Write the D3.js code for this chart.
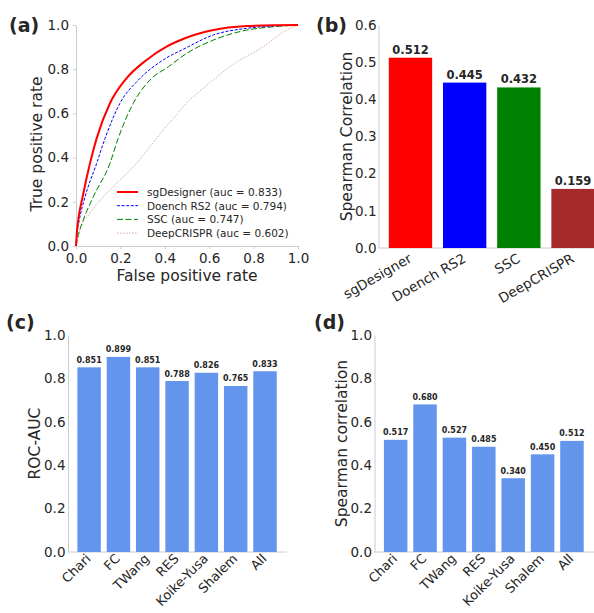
<!doctype html>
<html lang="en">
<head>
  <meta charset="utf-8">
  <title>sgDesigner benchmark</title>
  <style>
    body { margin: 0; background: #fff; }
    text { font-family: "DejaVu Sans", sans-serif; fill: #262626; }
  </style>
</head>
<body>
  <script src="https://cdn.jsdelivr.net/npm/d3@7"></script>
  <script>
    // (a) ROC curves
    const sgFpr   = [0, 0.003, 0.010, 0.030, 0.063, 0.093, 0.153, 0.221, 0.318, 0.408, 0.491, 0.619, 0.769, 0.900, 1];
    const sgTpr   = [0, 0.050, 0.118, 0.223, 0.374, 0.487, 0.646, 0.751, 0.842, 0.902, 0.940, 0.977, 0.995, 0.999, 1];
    const rs2Fpr  = [0, 0.004, 0.015, 0.041, 0.093, 0.131, 0.198, 0.281, 0.393, 0.491, 0.619, 0.769, 0.900, 1];
    const rs2Tpr  = [0, 0.050, 0.118, 0.223, 0.374, 0.487, 0.646, 0.751, 0.842, 0.894, 0.955, 0.985, 0.996, 1];
    const sscFpr  = [0, 0.008, 0.033, 0.078, 0.153, 0.190, 0.258, 0.333, 0.416, 0.499, 0.619, 0.769, 0.889, 1];
    const sscTpr  = [0, 0.040, 0.118, 0.223, 0.374, 0.487, 0.646, 0.751, 0.811, 0.872, 0.932, 0.977, 0.992, 1];
    const deepFpr = [0, 0.018, 0.063, 0.123, 0.183, 0.273, 0.333, 0.393, 0.450, 0.506, 0.574, 0.716, 0.844, 0.949, 1];
    const deepTpr = [0, 0.072, 0.148, 0.223, 0.284, 0.374, 0.450, 0.525, 0.590, 0.655, 0.715, 0.827, 0.902, 0.977, 1];
    const rocNames = ['sgDesigner (auc = 0.833)', 'Doench RS2 (auc = 0.794)', 'SSC (auc = 0.747)', 'DeepCRISPR (auc = 0.602)'];
    const rocTicks = [0, 0.2, 0.4, 0.6, 0.8, 1.0];

    // (b) Spearman correlation per tool
    const toolNames = ['sgDesigner', 'Doench RS2', 'SSC', 'DeepCRISPR'];
    const toolRho   = [0.512, 0.445, 0.432, 0.159];
    const toolTicks = [0, 0.1, 0.2, 0.3, 0.4, 0.5, 0.6];

    // (c), (d) sgDesigner per dataset
    const datasets   = ['Chari', 'FC', 'TWang', 'RES', 'Koike-Yusa', 'Shalem', 'All'];
    const datasetAuc = [0.851, 0.899, 0.851, 0.788, 0.826, 0.765, 0.833];
    const datasetRho = [0.517, 0.680, 0.527, 0.485, 0.340, 0.450, 0.512];
    const unitTicks  = [0, 0.2, 0.4, 0.6, 0.8, 1.0];

    const spine = '#cccccc';
    const fmt1 = d3.format('.1f');
    const fmt3 = d3.format('.3f');

    const svg = d3.select('body')
                  .append('svg')
                  .attr('width', 594)
                  .attr('height', 613);

    svg.append('rect').attr('width', 594).attr('height', 613).attr('fill', '#fff');

    // axis look shared by every panel
    function styleAxis(g, size) {
      g.attr('font-size', size).attr('font-family', null);
      g.select('.domain').attr('stroke', spine);
      g.selectAll('.tick line').attr('stroke', spine);
    }

    function panelLetter(x, y, s) {
      svg.append('text').attr('x', x).attr('y', y)
         .style('font-size', '19px').style('font-weight', 'bold').text(s);
    }

    // ---------- (a) ROC ----------
    const ax = d3.scaleLinear().domain([0, 1]).range([76, 298]);
    const ay = d3.scaleLinear().domain([0, 1]).range([246, 25]);

    svg.append('g')
       .attr('transform', 'translate(0,246)')
       .call(d3.axisBottom(ax).tickValues(rocTicks).tickFormat(fmt1).tickSize(3).tickPadding(4).tickSizeOuter(0))
       .call(styleAxis, 13.5);

    svg.append('g')
       .attr('transform', 'translate(76,0)')
       .call(d3.axisLeft(ay).tickValues(rocTicks).tickFormat(fmt1).tickSize(3).tickPadding(4).tickSizeOuter(0))
       .call(styleAxis, 13.5);

    const curves = [
      { fpr: sgFpr,   tpr: sgTpr,   color: '#ff0000', dash: null,      width: 2 },
      { fpr: rs2Fpr,  tpr: rs2Tpr,  color: '#0000ff', dash: '3,1.6',   width: 1 },
      { fpr: sscFpr,  tpr: sscTpr,  color: '#008000', dash: '6,2.5',   width: 1 },
      { fpr: deepFpr, tpr: deepTpr, color: '#d9a6a6', dash: '1.5,1.5', width: 1 }
    ];
    const line = d3.line()
                   .x((d) => ax(d[0]))
                   .y((d) => ay(d[1]))
                   .curve(d3.curveMonotoneX);

    // drawn back to front so red sits on top
    curves.slice().reverse().forEach((c) => {
      svg.append('path')
         .datum(d3.zip(c.fpr, c.tpr))
         .attr('d', line)
         .attr('fill', 'none')
         .attr('stroke', c.color)
         .attr('stroke-width', c.width)
         .attr('stroke-dasharray', c.dash);
    });

    // legend
    const legend = svg.append('g').attr('transform', 'translate(117,192)');
    curves.forEach((c, i) => {
      const y = i * 13.7;
      legend.append('line')
            .attr('x1', 0).attr('x2', 21).attr('y1', y).attr('y2', y)
            .attr('stroke', c.color).attr('stroke-width', c.width)
            .attr('stroke-dasharray', c.dash);
      legend.append('text')
            .attr('x', 30).attr('y', y + 3.8)
            .style('font-size', '10.5px')
            .text(rocNames[i]);
    });

    svg.append('text')
       .attr('x', 187).attr('y', 281)
       .attr('text-anchor', 'middle')
       .style('font-size', '15.5px')
       .text('False positive rate');

    svg.append('text')
       .attr('transform', 'translate(42,144) rotate(-90)')
       .attr('text-anchor', 'middle')
       .style('font-size', '15.5px')
       .text('True positive rate');

    panelLetter(9, 32, '(a)');

    // ---------- bar panels ----------
    function barPanel(p) {
      const x = d3.scaleLinear().domain(p.xDomain).range(p.xRange);
      const y = d3.scaleLinear().domain([0, p.yMax]).range(p.yRange);
      const step = x(1) - x(0);
      const bw = 0.8 * step;

      svg.append('g')
         .attr('transform', `translate(${p.xRange[0]},0)`)
         .call(d3.axisLeft(y).tickValues(p.ticks).tickFormat(fmt1).tickSize(0).tickPadding(p.tickPad).tickSizeOuter(0))
         .call(styleAxis, 13.5);

      // bottom spine
      svg.append('line')
         .attr('x1', p.xRange[0]).attr('x2', p.xRange[1])
         .attr('y1', y(0)).attr('y2', y(0))
         .attr('stroke', spine);

      svg.selectAll(null)
         .data(p.values)
         .enter()
         .append('rect')
         .attr('x', (d, i) => x(i) - bw / 2)
         .attr('y', (d) => y(d))
         .attr('width', bw)
         .attr('height', (d) => y(0) - y(d))
         .attr('fill', (d, i) => p.colors[i % p.colors.length]);

      svg.selectAll(null)
         .data(p.values)
         .enter()
         .append('text')
         .attr('x', (d, i) => x(i))
         .attr('y', (d) => y(d) - p.valueGap)
         .attr('text-anchor', 'middle')
         .style('font-size', p.valueSize + 'px')
         .style('font-weight', 'bold')
         .text((d) => fmt3(d));

      svg.selectAll(null)
         .data(p.names)
         .enter()
         .append('text')
         .attr('transform', (d, i) => `translate(${x(i) + p.labelDx},${p.labelY}) rotate(${-p.angle})`)
         .attr('text-anchor', 'end')
         .attr('dy', '0.7em')
         .style('font-size', p.labelSize + 'px')
         .text((d) => d);

      svg.append('text')
         .attr('transform', `translate(${p.ylabelX},${(p.yRange[0] + p.yRange[1]) / 2}) rotate(-90)`)
         .attr('text-anchor', 'middle')
         .style('font-size', '15.5px')
         .text(p.ylabel);
    }

    // (b)
    barPanel({
      names: toolNames, values: toolRho, colors: ['#ff0000', '#0000ff', '#008000', '#a52a2a'],
      xDomain: [-0.59, 3.59], xRange: [378.5, 605], yMax: 0.6, yRange: [248, 25], ticks: toolTicks,
      tickPad: 2, valueSize: 11.5, valueGap: 4, labelSize: 13.5, labelDx: -2.5, labelY: 253, angle: 30,
      ylabel: 'Spearman Correlation', ylabelX: 352
    });
    panelLetter(316, 32, '(b)');

    // (c)
    barPanel({
      names: datasets, values: datasetAuc, colors: ['#6495ed'],
      xDomain: [-0.72, 6.75], xRange: [68, 287], yMax: 1.0, yRange: [552, 335], ticks: unitTicks,
      tickPad: 2.5, valueSize: 8, valueGap: 4.5, labelSize: 13, labelDx: -4, labelY: 553, angle: 45,
      ylabel: 'ROC-AUC', ylabelX: 40
    });
    panelLetter(6, 329, '(c)');

    // (d)
    barPanel({
      names: datasets, values: datasetRho, colors: ['#6495ed'],
      xDomain: [-0.72, 6.75], xRange: [374.5, 594], yMax: 1.0, yRange: [552, 335], ticks: unitTicks,
      tickPad: 2.5, valueSize: 8, valueGap: 4.5, labelSize: 13, labelDx: -4, labelY: 553, angle: 45,
      ylabel: 'Spearman correlation', ylabelX: 347
    });
    panelLetter(314, 329, '(d)');
  </script>
</body>
</html>
